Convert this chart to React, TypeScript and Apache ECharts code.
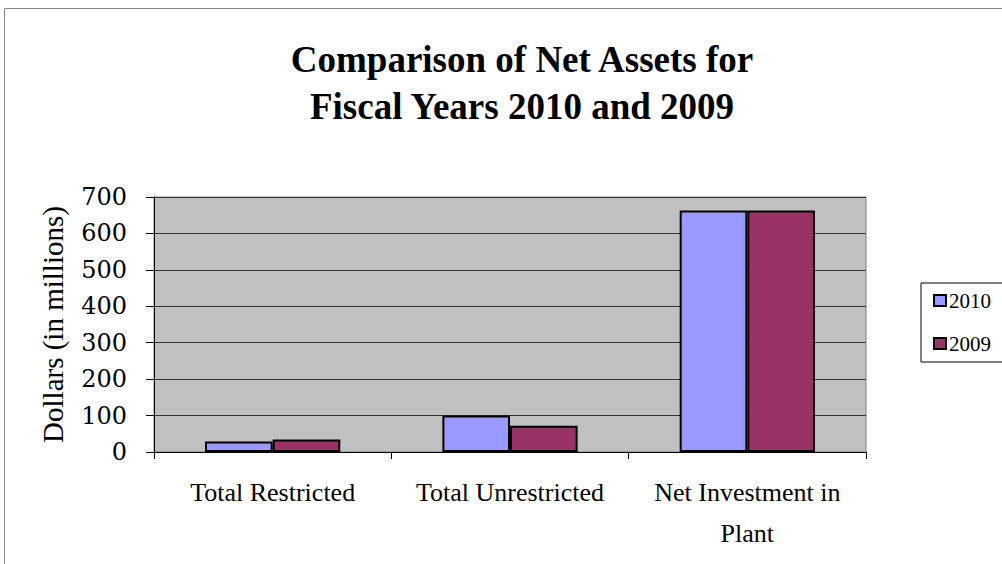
import React, { useEffect, useRef } from "react";
import * as echarts from "echarts";

const categories = ["Total Restricted", "Total Unrestricted", "Net Investment in\nPlant"];
const values2010 = [29, 100, 663];
const values2009 = [34, 72, 663];
const yTicks = { min: 0, max: 700, interval: 100 };
const titleText = "Comparison of Net Assets for\nFiscal Years 2010 and 2009";
const yName = "Dollars (in millions)";

const FONT = "'Liberation Serif', 'Times New Roman', serif";
const TICK_FONT = "'DejaVu Serif', 'Liberation Serif', serif";

export default function App() {
  const ref = useRef<HTMLDivElement>(null);
  useEffect(() => {
    if (!ref.current) return;
    const chart = echarts.init(ref.current, undefined, { renderer: "svg" });
    chart.setOption({
      animation: false,
      backgroundColor: "#ffffff",
      textStyle: { fontFamily: FONT, color: "#000" },
      title: {
        text: titleText,
        left: 517,
        top: 31,
        textAlign: "center",
        textStyle: { fontFamily: FONT, fontSize: 37, fontWeight: "bold", color: "#000", lineHeight: 47 },
      },
      graphic: [
        {
          type: "rect",
          shape: { x: 4.5, y: 8.5, width: 1010, height: 570 },
          style: { fill: "none", stroke: "#888", lineWidth: 1 },
          silent: true,
        },
      ],
      legend: {
        orient: "vertical",
        left: 921,
        top: 283,
        itemWidth: 12,
        itemHeight: 11,
        itemGap: 22,
        icon: "rect",
        borderColor: "#000",
        borderWidth: 1,
        padding: [7, 14, 8, 12],
        textStyle: { fontFamily: FONT, fontSize: 21, color: "#000", padding: [0, 0, 0, -2] },
        data: ["2010", "2009"],
      },
      grid: {
        left: 154,
        top: 197,
        right: 136,
        bottom: 112,
        show: true,
        backgroundColor: "#C0C0C0",
        borderColor: "#808080",
        borderWidth: 1,
      },
      xAxis: {
        type: "category",
        data: categories,
        axisLine: { show: true, lineStyle: { color: "#000", width: 1 } },
        axisTick: { show: true, length: 7, alignWithLabel: false, lineStyle: { color: "#000" } },
        axisLabel: {
          interval: 0,
          hideOverlap: false,
          fontFamily: FONT,
          fontSize: 26,
          color: "#000",
          margin: 20,
          lineHeight: 41,
        },
      },
      yAxis: {
        type: "value",
        min: yTicks.min,
        max: yTicks.max,
        interval: yTicks.interval,
        name: yName,
        nameLocation: "middle",
        nameGap: 87,
        nameTextStyle: { fontFamily: FONT, fontSize: 29, color: "#000" },
        axisLine: { show: true, lineStyle: { color: "#000", width: 1 } },
        axisTick: { show: true, length: 8, lineStyle: { color: "#000" } },
        axisLabel: { fontFamily: TICK_FONT, fontSize: 24, color: "#000", margin: 27 },
        splitLine: { show: true, lineStyle: { color: "#333", width: 1 } },
      },
      series: [
        {
          name: "2010",
          type: "bar",
          data: values2010,
          barGap: "0%",
          barCategoryGap: "43%",
          itemStyle: { color: "#9999FF", borderColor: "#000", borderWidth: 2 },
        },
        {
          name: "2009",
          type: "bar",
          data: values2009,
          itemStyle: { color: "#993366", borderColor: "#000", borderWidth: 2 },
        },
      ],
    });
    return () => chart.dispose();
  }, []);
  return (
    <div
      ref={ref}
      style={{ position: "fixed", left: 0, top: 0, width: 1002, height: 564 }}
    />
  );
}
